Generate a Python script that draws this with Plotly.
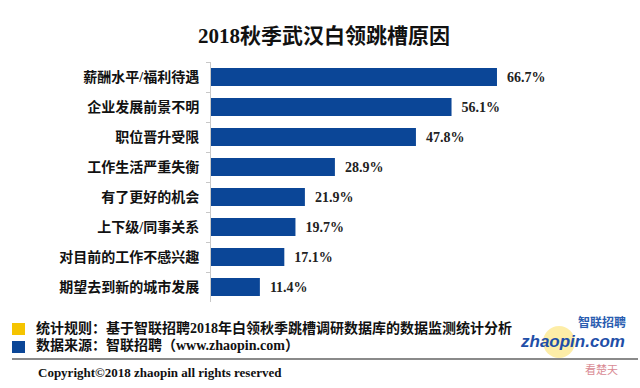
import plotly.graph_objects as go

categories = ["薪酬水平/福利待遇", "企业发展前景不明", "职位晋升受限", "工作生活严重失衡",
              "有了更好的机会", "上下级/同事关系", "对目前的工作不感兴趣", "期望去到新的城市发展"]
values = [66.7, 56.1, 47.8, 28.9, 21.9, 19.7, 17.1, 11.4]
value_labels = [f"  {v:.1f}%" for v in values]

title_text = "2018秋季武汉白领跳槽原因"
note_rule = "统计规则：基于智联招聘2018年白领秋季跳槽调研数据库的数据监测统计分析"
note_source = "数据来源：智联招聘（www.zhaopin.com）"
copyright_text = "Copyright©2018 zhaopin all rights reserved"

W, H = 640, 388
ML, MR, MT, MB = 211, 86, 62, 86
PW, PH = W - ML - MR, H - MT - MB

def px(x):
    return (x - ML) / PW

def py(y):
    return (H - MB - y) / PH

SERIF = "Liberation Serif, Noto Sans CJK SC, serif"
BLUE = "#0b4697"

fig = go.Figure()
fig.add_trace(go.Bar(
    x=values, y=categories, orientation="h",
    marker=dict(color=BLUE, line=dict(width=0)),
    text=value_labels, textposition="outside", cliponaxis=False,
    textfont=dict(family=SERIF, size=14, color="#222222", weight="bold"),
    hoverinfo="skip",
))

ann = []
ann.append(dict(text=f"<b>{title_text}</b>", x=px(324), y=py(36), xref="paper", yref="paper",
                xanchor="center", yanchor="middle", showarrow=False,
                font=dict(family=SERIF, size=21, color="#111111")))
ann.append(dict(text=f"<b>{note_rule}</b>", x=px(34), y=py(328), xref="paper", yref="paper",
                xanchor="left", yanchor="middle", showarrow=False,
                font=dict(family=SERIF, size=14, color="#111111")))
ann.append(dict(text=f"<b>{note_source}</b>", x=px(34), y=py(345), xref="paper", yref="paper",
                xanchor="left", yanchor="middle", showarrow=False,
                font=dict(family=SERIF, size=14, color="#111111")))
ann.append(dict(text=f"<b>{copyright_text}</b>", x=px(36), y=py(372), xref="paper", yref="paper",
                xanchor="left", yanchor="middle", showarrow=False,
                font=dict(family=SERIF, size=13, color="#111111")))
ann.append(dict(text="<b>智联招聘</b>", x=px(628), y=py(321), xref="paper", yref="paper",
                xanchor="right", yanchor="middle", showarrow=False,
                font=dict(family="Noto Sans CJK SC", size=12, color="#2a5db0")))
ann.append(dict(text="<b><i>zhaopin.com</i></b>", x=px(627), y=py(341), xref="paper", yref="paper",
                xanchor="right", yanchor="middle", showarrow=False,
                font=dict(family="Liberation Sans, Arial", size=17, color="#1f4fa8")))
ann.append(dict(text="看楚天", x=px(620), y=py(369), xref="paper", yref="paper",
                xanchor="right", yanchor="middle", showarrow=False,
                font=dict(family="Noto Sans CJK SC", size=11, color="#d98a94")))

shapes = [
    dict(type="rect", xref="paper", yref="paper", x0=px(12), x1=px(25), y0=py(323), y1=py(335),
         fillcolor="#f5c400", line=dict(width=0)),
    dict(type="rect", xref="paper", yref="paper", x0=px(12), x1=px(25), y0=py(341), y1=py(353),
         fillcolor=BLUE, line=dict(width=0)),
    dict(type="line", xref="paper", yref="paper", x0=px(12), x1=px(638), y0=py(359), y1=py(359),
         line=dict(color="#8a8a8a", width=2)),
    dict(type="circle", xref="paper", yref="paper", x0=px(543), x1=px(575), y0=py(326), y1=py(358),
         fillcolor="rgba(250,215,60,0.45)", line=dict(width=0), layer="below"),
]

fig.update_layout(
    width=W, height=H,
    margin=dict(l=ML, r=MR, t=MT, b=MB, pad=0),
    paper_bgcolor="white", plot_bgcolor="white",
    showlegend=False, bargap=0.4,
    annotations=ann, shapes=shapes,
    xaxis=dict(range=[0, 80], visible=False, fixedrange=True),
    yaxis=dict(autorange="reversed", showline=True, linecolor="#c8c8c8", linewidth=1,
               ticks="outside", ticklen=4, tickcolor="#c8c8c8", tickson="boundaries",
               showgrid=False, zeroline=False, ticklabelstandoff=8,
               tickfont=dict(family=SERIF, size=14, color="#111111", weight="bold")),
)

fig.write_html("out.html")
